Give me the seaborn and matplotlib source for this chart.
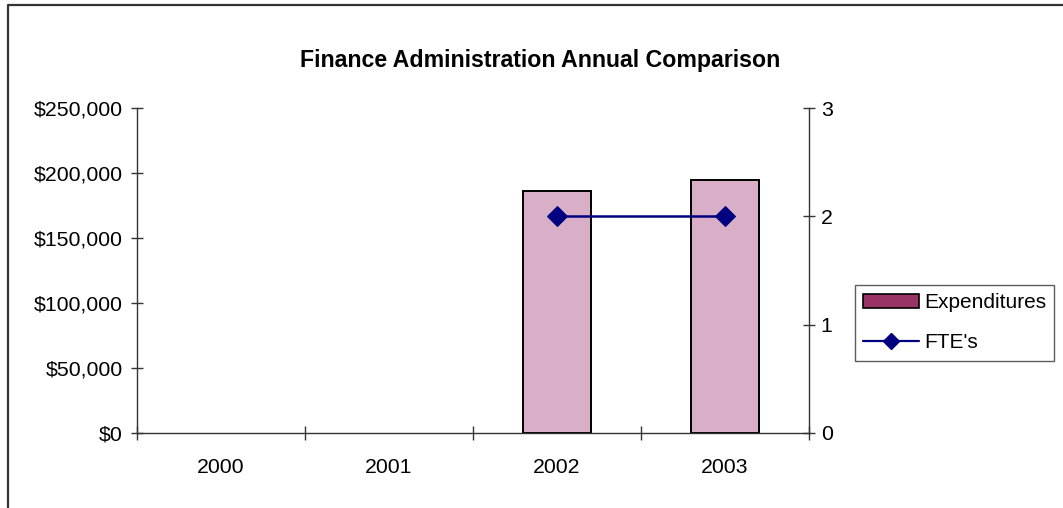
import matplotlib
matplotlib.use("Agg")
import matplotlib.pyplot as plt
from matplotlib.lines import Line2D
from matplotlib.patches import Patch
from matplotlib.ticker import FuncFormatter, FixedLocator
import seaborn as sns
import pandas as pd
import numpy as np

# Annual figures (no data recorded for 2000 and 2001)
years = ["2000", "2001", "2002", "2003"]
expenditures = [np.nan, np.nan, 186000, 194600]
ftes = [np.nan, np.nan, 2, 2]

sns.set_theme(style="white")
plt.rcParams["font.family"] = ["Liberation Sans", "DejaVu Sans"]
plt.rcParams["text.color"] = "black"
plt.rcParams["xtick.color"] = "black"
plt.rcParams["ytick.color"] = "black"

W, H = 1063, 508
fig = plt.figure(figsize=(W / 100, H / 100), dpi=100)
ax = fig.add_axes([137 / W, 1 - 433 / H, (809 - 137) / W, (433 - 108) / H])

df = pd.DataFrame({"Year": years, "Expenditures": expenditures, "FTE": ftes})

sns.barplot(data=df, x="Year", y="Expenditures", order=years, ax=ax,
            color="#d8afc6", saturation=1, width=0.41, edgecolor="black",
            linewidth=1.4, errorbar=None)

ax2 = ax.twinx()
sns.lineplot(x=np.arange(len(years)), y=df["FTE"], ax=ax2, color="#000080",
             linewidth=1.8, marker="D", markersize=10, markeredgecolor="#000080")

ax.set_xlim(-0.5, len(years) - 0.5)
ax.set_ylim(0, 250000)
ax2.set_ylim(0, 3)
ax.set_xlabel("")
ax.set_ylabel("")
ax2.set_ylabel("")

for a in (ax, ax2):
    a.spines["top"].set_visible(False)
    for s in ("left", "right", "bottom"):
        a.spines[s].set_color("#333333")
        a.spines[s].set_linewidth(1.0)
ax.spines["right"].set_visible(False)
ax2.spines["left"].set_visible(False)
ax2.spines["bottom"].set_visible(False)

ax.yaxis.set_major_locator(FixedLocator(np.arange(0, 250001, 50000)))
ax.yaxis.set_major_formatter(FuncFormatter(lambda v, p: f"${v:,.0f}"))
ax2.yaxis.set_major_locator(FixedLocator([0, 1, 2, 3]))

ax.tick_params(axis="y", which="major", direction="inout", length=9, width=1,
               color="#333333", labelsize=15.3, pad=6, left=True)
ax2.tick_params(axis="y", which="major", direction="inout", length=9, width=1,
                color="#333333", labelsize=15.3, pad=4, right=True)
ax.xaxis.set_minor_locator(FixedLocator(np.arange(-0.5, len(years), 1.0)))
ax.tick_params(axis="x", which="major", length=0, labelsize=15.3, pad=18)
ax.tick_params(axis="x", which="minor", direction="inout", length=10, width=1,
               color="#333333", bottom=True)

ax.grid(False)
ax2.grid(False)

fig.text(540 / W, 1 - 60 / H, "Finance Administration Annual Comparison",
         ha="center", va="center", fontsize=16.7, fontweight="bold")

handles = [
    Patch(facecolor="#993366", edgecolor="black", linewidth=1.2, label="Expenditures"),
    Line2D([], [], color="#000080", linewidth=1.6, marker="D", markersize=8,
           label="FTE's"),
]
leg = fig.legend(handles=handles, loc="upper left",
                 bbox_to_anchor=(855 / W, 1 - 285 / H), frameon=True,
                 fancybox=False, fontsize=15, handlelength=2.65,
                 handletextpad=0.25, borderpad=0.4, labelspacing=1.0,
                 borderaxespad=0)
leg.get_frame().set_edgecolor("#333333")
leg.get_frame().set_linewidth(1.0)

# outer chart frame
fig.add_artist(Line2D([8 / W, 8 / W, 1.0], [0.0, 1 - 5 / H, 1 - 5 / H],
                      transform=fig.transFigure, color="#333333", linewidth=1.6))

fig.savefig("out.png", dpi=100, facecolor="white")
